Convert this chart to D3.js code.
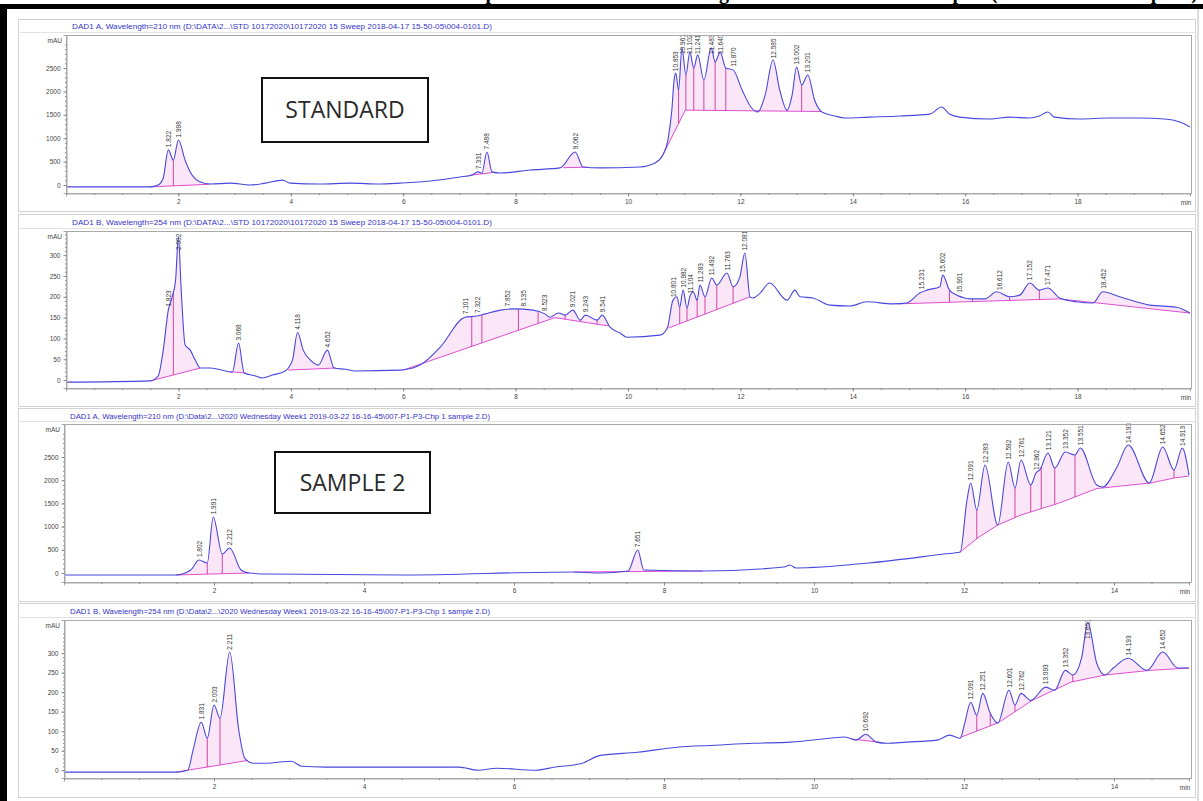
<!DOCTYPE html>
<html><head><meta charset="utf-8">
<script src="https://cdn.jsdelivr.net/npm/d3@7"></script>
<style>body{margin:0;background:#fff;}svg{display:block;}</style>
</head><body>
<svg id="c" width="1203" height="801"></svg>
<script>
// ---------------- DATA ----------------
const titleText = "Comparison of HPLC chromatograms of standard and samples (standard and sample 2)";
const boxLabels = ["STANDARD", "SAMPLE 2"];
const headers = [
  "DAD1 A, Wavelength=210 nm (D:\\DATA\\2...\\STD 10172020\\10172020 15 Sweep 2018-04-17 15-50-05\\004-0101.D)",
  "DAD1 B, Wavelength=254 nm (D:\\DATA\\2...\\STD 10172020\\10172020 15 Sweep 2018-04-17 15-50-05\\004-0101.D)",
  "DAD1 A, Wavelength=210 nm (D:\\Data\\2...\\2020 Wednesday Week1 2019-03-22 16-16-45\\007-P1-P3-Chp 1 sample 2.D)",
  "DAD1 B, Wavelength=254 nm (D:\\Data\\2...\\2020 Wednesday Week1 2019-03-22 16-16-45\\007-P1-P3-Chp 1 sample 2.D)"
];
const xTicks20 = [2,4,6,8,10,12,14,16,18];
const xTicks15 = [2,4,6,8,10,12,14];
const yTicksHigh = [0,500,1000,1500,2000,2500];
const yTicksLow = [0,50,100,150,200,250,300];
const yUnit = "mAU";
const xUnit = "min";

// Panel 1: standard, 210 nm  [time (min), mAU]
const panel1Signal = [[0,-40],[1.50,-40],[1.64,0],[1.73,150],[1.82,750],[1.91,530],[2.00,960],[2.12,530],[2.21,280],[2.39,65],[2.57,20],[2.92,40],[3.28,0],[3.55,40],[3.85,105],[3.99,40],[4.52,20],[5.06,40],[5.59,20],[5.95,40],[6.48,85],[7.01,170],[7.23,215],[7.33,280],[7.40,255],[7.49,705],[7.58,280],[7.72,255],[8.26,320],[8.79,365],[9.06,705],[9.20,385],[9.50,365],[10.21,385],[10.48,470],[10.62,640],[10.71,960],[10.78,1600],[10.82,2240],[10.85,2390],[10.90,2030],[10.96,2930],[11.03,2350],[11.10,2840],[11.17,2500],[11.24,2780],[11.35,2240],[11.48,2930],[11.55,2630],[11.64,2840],[11.74,2500],[11.87,2460],[12.03,2030],[12.20,1645],[12.31,1560],[12.44,1920],[12.58,2670],[12.70,2030],[12.83,1600],[12.92,1920],[13.00,2520],[13.09,2140],[13.20,2350],[13.32,1815],[13.45,1560],[13.68,1475],[13.86,1430],[14.30,1450],[14.84,1475],[15.37,1515],[15.58,1665],[15.72,1515],[15.90,1450],[16.44,1410],[16.79,1450],[17.15,1430],[17.32,1475],[17.47,1560],[17.59,1450],[18.04,1410],[18.57,1430],[19.10,1430],[19.55,1410],[19.82,1345],[20.0,1240]];
const panel1Baseline = [
  [[1.50,-40],[2.55,15]],
  [[7.20,210],[7.62,270]],
  [[8.85,370],[9.28,380]],
  [[10.62,640],[11.02,1600],[13.45,1570]]
];
const panel1Peaks = [1.822,1.998,7.331,7.488,9.062,10.853,10.961,11.102,11.241,11.483,11.640,11.870,12.585,13.002,13.201];
const panel1Valleys = [1.91,7.40,10.90,11.03,11.17,11.35,11.55,11.74,12.31,12.83,13.09];

// Panel 2: standard, 254 nm
const panel2Signal = [[0,-5],[1.50,-2],[1.64,10],[1.73,72],[1.82,168],[1.89,200],[1.95,240],[2.00,344],[2.05,216],[2.12,84],[2.21,72],[2.30,48],[2.39,29],[2.57,29],[2.84,22],[2.96,19],[3.07,89],[3.17,17],[3.37,10],[3.49,5],[3.67,12],[3.90,22],[4.03,48],[4.12,115],[4.22,72],[4.35,48],[4.49,36],[4.65,72],[4.77,29],[4.97,26],[5.15,22],[5.95,24],[6.30,36],[6.66,79],[7.10,151],[7.32,154],[7.46,159],[7.73,168],[7.96,171],[8.31,168],[8.52,159],[8.61,151],[8.76,161],[8.88,156],[9.02,168],[9.15,144],[9.24,156],[9.45,144],[9.54,156],[9.68,127],[9.86,113],[9.98,103],[10.57,108],[10.70,125],[10.80,192],[10.87,200],[10.92,175],[10.98,216],[11.05,173],[11.10,200],[11.16,212],[11.23,192],[11.28,228],[11.37,200],[11.49,245],[11.58,228],[11.76,257],[11.87,224],[11.99,248],[12.08,305],[12.17,200],[12.22,197],[12.35,209],[12.52,233],[12.83,192],[12.97,216],[13.06,200],[13.29,197],[13.59,180],[13.95,178],[14.25,188],[14.71,183],[14.96,185],[15.19,209],[15.32,216],[15.55,224],[15.60,252],[15.72,216],[15.85,204],[16.13,195],[16.35,195],[16.56,212],[16.79,200],[16.97,204],[17.15,233],[17.32,216],[17.47,221],[17.68,197],[17.98,188],[18.27,185],[18.45,212],[18.75,200],[19.28,180],[19.76,175],[20.0,161]];
const panel2Baseline = [
  [[1.50,-2],[2.39,29]],
  [[2.92,20],[3.20,17]],
  [[3.95,24],[4.80,29]],
  [[6.00,24],[8.70,150]],
  [[8.70,150],[9.65,130]],
  [[10.72,125],[12.17,200]],
  [[14.80,183],[17.68,195],[18.30,186]],
  [[18.30,186],[20.0,161]]
];
const panel2Peaks = [1.823,2.002,3.068,4.118,4.652,7.101,7.322,7.852,8.135,8.523,9.021,9.243,9.541,10.801,10.982,11.104,11.283,11.492,11.763,12.081,15.231,15.602,15.901,16.612,17.152,17.471,18.452];
const panel2Valleys = [1.91,7.22,7.40,8.05,8.40,8.88,9.15,9.45,10.92,11.05,11.23,11.37,11.58,11.87,15.72,16.13,16.79,17.32];

// Panel 3: sample 2, 210 nm
const panel3Signal = [[0,-43],[1.49,-43],[1.69,65],[1.80,280],[1.91,215],[1.99,1207],[2.11,409],[2.21,539],[2.36,65],[2.47,0],[2.72,-22],[4.48,-43],[6.80,22],[7.15,0],[7.52,43],[7.65,496],[7.73,65],[8.52,43],[9.60,129],[9.68,172],[9.76,108],[10.72,215],[11.73,409],[11.95,453],[12.04,1573],[12.09,1940],[12.17,1358],[12.28,2327],[12.45,1034],[12.59,2392],[12.68,1832],[12.76,2435],[12.89,1896],[12.96,2155],[13.01,2220],[13.12,2586],[13.21,2263],[13.35,2608],[13.48,2543],[13.55,2694],[13.77,1896],[13.85,1853],[14.04,2284],[14.19,2758],[14.47,1940],[14.65,2715],[14.80,2220],[14.91,2694],[15.0,2112]];
const panel3Baseline = [
  [[1.49,-43],[2.47,0]],
  [[6.80,22],[8.52,43]],
  [[11.95,453],[12.20,776],[12.45,1034],[12.76,1250],[13.27,1508],[13.77,1820],[14.49,1940],[14.80,2047],[15.0,2090]]
];
const panel3Peaks = [1.802,1.991,2.212,7.651,12.091,12.283,12.592,12.761,12.962,13.121,13.352,13.551,14.193,14.652,14.913];
const panel3Valleys = [1.91,2.11,12.17,12.45,12.68,12.89,13.03,13.21,13.48,13.85,14.47,14.80];

// Panel 4: sample 2, 254 nm
const panel4Signal = [[0,-5],[1.49,-5],[1.65,0],[1.72,51],[1.83,123],[1.91,82],[2.00,167],[2.08,133],[2.21,303],[2.33,103],[2.41,31],[2.52,18],[2.72,18],[2.88,21],[3.03,23],[3.17,10],[3.48,8],[5.27,8],[5.52,0],[5.77,5],[6.29,0],[6.55,8],[6.91,18],[7.15,38],[7.65,46],[8.17,59],[8.68,64],[9.19,69],[9.69,72],[10.21,82],[10.41,85],[10.56,77],[10.69,92],[10.83,72],[10.97,69],[11.23,72],[11.64,77],[11.81,90],[11.95,82],[12.01,121],[12.09,174],[12.17,141],[12.25,197],[12.35,146],[12.45,121],[12.60,205],[12.68,167],[12.76,197],[12.89,179],[13.09,213],[13.21,205],[13.35,256],[13.45,244],[13.57,290],[13.65,379],[13.77,274],[13.88,244],[13.99,262],[14.19,287],[14.44,256],[14.65,303],[14.85,262],[15.0,262]];
const panel4Baseline = [
  [[1.49,-5],[2.45,25]],
  [[10.50,80],[10.90,71]],
  [[11.95,84],[12.45,121],[12.91,179],[13.43,226],[13.88,244],[14.49,256],[15.0,262]]
];
const panel4Peaks = [1.831,2.003,2.211,10.692,12.091,12.251,12.601,12.762,13.093,13.352,13.651,14.193,14.652];
const panel4Valleys = [1.91,2.08,12.17,12.35,12.68,12.89,13.21,13.45,13.88,14.44];

// ---------------- LAYOUT ----------------
const layout = [
  {top:19, bottom:211, hdrY:29, plotTop:35, plotBottom:193, xRange:[66,1190], xMax:20, yDomain:[-171,3205]},
  {top:214, bottom:406, hdrY:225, plotTop:231, plotBottom:388, xRange:[66,1190], xMax:20, yDomain:[-19,358]},
  {top:408, bottom:601, hdrY:419, plotTop:424, plotBottom:582, xRange:[64,1189], xMax:15, yDomain:[-194,3211]},
  {top:603, bottom:797, hdrY:614, plotTop:620, plotBottom:778, xRange:[64,1189], xMax:15, yDomain:[-20,385]}
];
const panels = [
  {signal:panel1Signal, base:panel1Baseline, peaks:panel1Peaks, valleys:panel1Valleys, xt:xTicks20, yt:yTicksHigh, header:headers[0]},
  {signal:panel2Signal, base:panel2Baseline, peaks:panel2Peaks, valleys:panel2Valleys, xt:xTicks20, yt:yTicksLow, header:headers[1]},
  {signal:panel3Signal, base:panel3Baseline, peaks:panel3Peaks, valleys:panel3Valleys, xt:xTicks15, yt:yTicksHigh, header:headers[2]},
  {signal:panel4Signal, base:panel4Baseline, peaks:panel4Peaks, valleys:panel4Valleys, xt:xTicks15, yt:yTicksLow, header:headers[3]}
];
const boxes = [
  {panel:0, x:262, y:78, w:166, h:64},
  {panel:2, x:275, y:452, w:155, h:61}
];

const SIG = "#4848dc", BASE = "#dd50d0", DROP = "#cc3399", FILL = "#f7d2f0";

function interp(arr, t) {
  if (t <= arr[0][0]) return arr[0][1];
  for (let i = 1; i < arr.length; i++) {
    if (t <= arr[i][0]) {
      const a = arr[i-1], b = arr[i];
      return a[1] + (b[1]-a[1]) * (t-a[0])/(b[0]-a[0]);
    }
  }
  return arr[arr.length-1][1];
}

const svg = d3.select("#c");
svg.append("rect").attr("width",1203).attr("height",801).attr("fill","#fff");

// cut-off title at the very top (only its lowest part shows, as in the source)
svg.append("text").attr("x",1198).attr("y",-1).attr("text-anchor","end")
  .attr("font-family","Liberation Serif").attr("font-weight","bold").attr("font-size",20)
  .attr("fill","#000").text(titleText);
// black frame
svg.append("rect").attr("x",0).attr("y",4).attr("width",1203).attr("height",5).attr("fill","#000");
svg.append("rect").attr("x",0).attr("y",4).attr("width",7).attr("height",797).attr("fill","#000");
svg.append("line").attr("x1",1198).attr("x2",1198).attr("y1",9).attr("y2",801).attr("stroke","#bbb");

panels.forEach((d, i) => {
  const cfg = layout[i];
  const g = svg.append("g");
  const x = d3.scaleLinear().domain([0, cfg.xMax]).range(cfg.xRange);
  const y = d3.scaleLinear().domain(cfg.yDomain).range([cfg.plotBottom, cfg.plotTop]);
  const pl = cfg.xRange[0], pr = 1191;

  g.append("rect").attr("x",18.5).attr("y",cfg.top+0.5).attr("width",1177).attr("height",cfg.bottom-cfg.top)
    .attr("fill","none").attr("stroke","#d2d2d2");
  g.append("line").attr("x1",18).attr("x2",1196).attr("y1",cfg.plotTop-2.5).attr("y2",cfg.plotTop-2.5)
    .attr("stroke","#e2e2e2");

  g.append("text").attr("x",pl+6).attr("y",cfg.hdrY).attr("font-family","Liberation Sans")
    .attr("font-size",7).attr("fill","#3535c8").attr("textLength",420).attr("lengthAdjust","spacingAndGlyphs")
    .text(d.header);

  const clipId = "clip"+i;
  svg.append("clipPath").attr("id",clipId).append("rect")
    .attr("x",pl).attr("y",cfg.plotTop).attr("width",pr-pl).attr("height",cfg.plotBottom-cfg.plotTop);
  const pg = g.append("g").attr("clip-path",`url(#${clipId})`);

  d.base.forEach(seg => {
    const t0 = seg[0][0], t1 = seg[seg.length-1][0];
    const ts = [t0, ...d.signal.map(p=>p[0]).filter(t => t > t0 && t < t1), t1];
    const area = d3.area().x(t => x(t)).y0(t => y(interp(seg,t))).y1(t => y(Math.max(interp(d.signal,t), interp(seg,t))))
      .curve(d3.curveMonotoneX);
    pg.append("path").attr("d", area(ts)).attr("fill",FILL).attr("opacity",0.55);
  });

  const bl = d3.line().x(p=>x(p[0])).y(p=>y(p[1]));
  d.base.forEach(seg => {
    pg.append("path").attr("d", bl(seg)).attr("fill","none").attr("stroke",BASE).attr("stroke-width",1);
  });

  d.valleys.forEach(t => {
    const seg = d.base.find(s => t >= s[0][0] && t <= s[s.length-1][0]);
    if (!seg) return;
    pg.append("line").attr("x1",x(t)).attr("x2",x(t))
      .attr("y1",y(interp(d.signal,t))).attr("y2",y(interp(seg,t)))
      .attr("stroke",DROP).attr("stroke-width",0.9);
  });

  const line = d3.line().x(p=>x(p[0])).y(p=>y(p[1])).curve(d3.curveMonotoneX);
  pg.append("path").attr("d", line(d.signal)).attr("fill","none").attr("stroke",SIG).attr("stroke-width",1.1);

  const fmt = d3.format(".3f");
  d.peaks.forEach(t => {
    const py = Math.max(y(interp(d.signal,t)), cfg.plotTop+22);
    g.append("text").attr("transform",`translate(${x(t)+2.5},${py-3}) rotate(-90)`)
      .attr("font-family","Liberation Sans").attr("font-size",6.5).attr("fill","#333")
      .text(fmt(t));
  });

  g.append("rect").attr("x",pl+0.5).attr("y",cfg.plotTop+0.5).attr("width",pr-pl).attr("height",cfg.plotBottom-cfg.plotTop)
    .attr("fill","none").attr("stroke","#a9a9a9");

  g.append("g").attr("transform",`translate(${pl+0.5},0)`)
    .call(d3.axisLeft(y).tickValues(d.yt).tickSize(3).tickPadding(3).tickFormat(d3.format("d")));
  const ystep = d.yt[1]-d.yt[0];
  g.append("g").attr("transform",`translate(${pl+0.5},0)`)
    .call(d3.axisLeft(y).tickValues(d3.range(0, d.yt[d.yt.length-1]+ystep*1.01, ystep/5)).tickSize(1.5).tickFormat(""))
    .call(s=>s.select(".domain").remove());
  g.append("text").attr("x",pl-4).attr("y",cfg.plotTop+8).attr("text-anchor","end")
    .attr("font-family","Liberation Sans").attr("font-size",6.5).attr("fill","#444").text(yUnit);

  g.append("g").attr("transform",`translate(0,${cfg.plotBottom+0.5})`)
    .call(d3.axisBottom(x).tickValues(d.xt).tickSize(3).tickPadding(3).tickFormat(d3.format("d")));
  g.append("g").attr("transform",`translate(0,${cfg.plotBottom+0.5})`)
    .call(d3.axisBottom(x).tickValues(d3.range(0, cfg.xMax+0.01, 0.5)).tickSize(1.5).tickFormat(""))
    .call(s=>s.select(".domain").remove());
  g.append("text").attr("x",x(cfg.xMax)-4).attr("y",cfg.plotBottom+12).attr("text-anchor","middle")
    .attr("font-family","Liberation Sans").attr("font-size",6.5).attr("fill","#444").text(xUnit);

  g.selectAll(".tick text").attr("font-family","Liberation Sans").attr("font-size",6.5).attr("fill","#444");
  g.selectAll(".tick line").attr("stroke","#888");
  g.selectAll(".domain").attr("stroke","#a9a9a9");
});

boxes.forEach((b, i) => {
  svg.append("rect").attr("x",b.x).attr("y",b.y).attr("width",b.w).attr("height",b.h)
    .attr("fill","#fff").attr("stroke","#111").attr("stroke-width",2);
  svg.append("text").attr("x",b.x+b.w/2).attr("y",b.y+b.h/2+8).attr("text-anchor","middle")
    .attr("font-family","Open Sans").attr("font-size",23).attr("fill","#2a2a2a").text(boxLabels[i]);
});
</script>
</body></html>
